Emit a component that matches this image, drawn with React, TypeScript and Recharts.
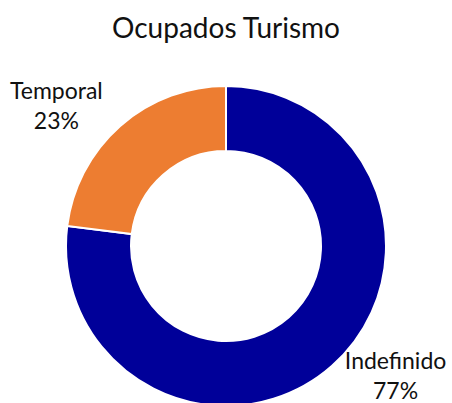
import { PieChart, Pie, Cell } from "recharts";

const categories = ["Indefinido", "Temporal"];
const values = [77, 23];
const colors = ["#000099", "#ED7D31"];

const data = categories.map((name, i) => ({ name, value: values[i] }));

const RAD = Math.PI / 180;
const FONT = "Lato, 'Open Sans', sans-serif";

function renderLabel(props: any) {
  const { cx, cy, midAngle, outerRadius, name, percent } = props;
  const a = (midAngle + 10) * RAD;
  const r = outerRadius + 57;
  const x = cx + r * Math.cos(a);
  const y = cy - r * Math.sin(a);
  return (
    <text x={x} y={y} textAnchor="middle" fontFamily={FONT} fontSize={23} fill="#111">
      <tspan x={x} dy={-12}>{name}</tspan>
      <tspan x={x} dy={30}>{`${Math.round(percent * 100)}%`}</tspan>
    </text>
  );
}

export default function App() {
  return (
    <div style={{ position: "absolute", left: 0, top: 0, width: 452, height: 403, background: "#fff", overflow: "hidden" }}>
      <div
        style={{
          position: "absolute",
          top: 10,
          width: 452,
          textAlign: "center",
          fontFamily: FONT,
          fontSize: 28,
          color: "#111",
        }}
      >
        Ocupados Turismo
      </div>
      <PieChart width={452} height={403} margin={{ top: 0, right: 0, bottom: 0, left: 0 }}>
        <Pie
          data={data}
          dataKey="value"
          nameKey="name"
          cx={226}
          cy={246}
          innerRadius={95}
          outerRadius={160}
          startAngle={90}
          endAngle={-270}
          stroke="#fff"
          strokeWidth={2}
          label={renderLabel}
          labelLine={false}
          isAnimationActive={false}
        >
          {data.map((d, i) => (
            <Cell key={d.name} fill={colors[i]} />
          ))}
        </Pie>
      </PieChart>
    </div>
  );
}
